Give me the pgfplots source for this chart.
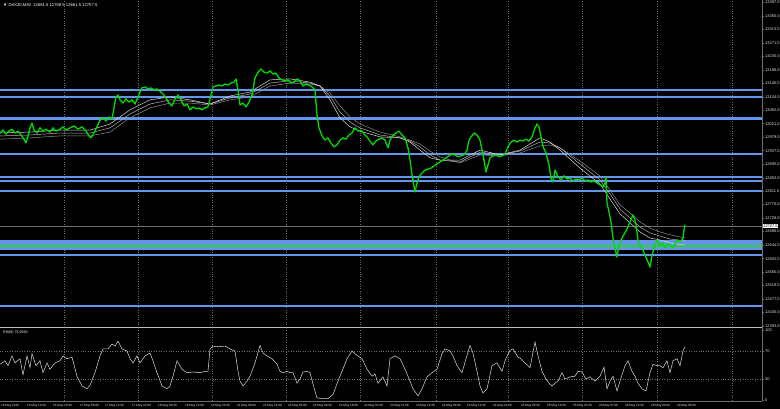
\documentclass[border=0pt]{standalone}
\usepackage{fontspec}
\setmainfont{Liberation Sans}
\usepackage{pgfplots}
\pgfplotsset{compat=1.18}
\definecolor{lvl}{RGB}{100,149,237}
\definecolor{lvlgreen}{RGB}{50,205,50}
\definecolor{cndl}{RGB}{0,220,0}
\definecolor{grd}{RGB}{110,110,110}
\definecolor{lbl}{RGB}{225,225,225}
\pgfplotsset{
  mtbase/.style={
    scale only axis, width=762bp, xmin=0, xmax=762,
    axis line style={draw=none},
    xtick={64,138,212,286,360,436,508,582,657,732}, xticklabels={},
    xtick style={draw=none}, xmajorgrids,
    grid style={dotted, grd, line width=0.45bp},
    ytick pos=right, yticklabel pos=right, ytick style={draw=grd, line width=0.5bp},
    tick align=outside, major tick length=2bp,
    yticklabel style={font=\fontsize{4}{4}\selectfont, color=lbl, inner sep=1bp},
    scaled y ticks=false,
    /pgf/number format/assume math mode=true,
    clip=true,
  }
}
\begin{document}
\begin{tikzpicture}
\fill[black] (0,0) rectangle (780bp,409bp);
\useasboundingbox (0,0) rectangle (780bp,409bp);
\begin{axis}[mtbase, at={(0bp,82bp)}, anchor=south west, height=327bp,
  ymin=12389.9, ymax=13404.9,
  ytick={12393,12435,12477,12519,12560,12602,12644,12686,12728,12770,12811,12853,12895,12937,12979,13021,13062,13104,13146,13188,13230,13271,13313,13355,13397},
  /pgf/number format/fixed, /pgf/number format/fixed zerofill,
  /pgf/number format/precision=1, /pgf/number format/1000 sep={},
]
% horizontal levels
\addplot[lvl, line width=2bp] coordinates {(0,13125.5) (762,13125.5)};
\addplot[lvl, line width=2bp] coordinates {(0,13103.8) (762,13103.8)};
\addplot[lvl, line width=3bp] coordinates {(0,13038.6) (762,13038.6)};
\addplot[lvl, line width=2bp] coordinates {(0,12926.9) (762,12926.9)};
\addplot[lvl, line width=2bp] coordinates {(0,12857.0) (762,12857.0)};
\addplot[lvl, line width=1.6bp] coordinates {(0,12843.1) (762,12843.1)};
\addplot[lvl, line width=2bp] coordinates {(0,12812.0) (762,12812.0)};
\addplot[lvl, line width=5bp] coordinates {(0,12652.2) (762,12652.2)};
\addplot[lvl, line width=2.7bp] coordinates {(0,12632.9) (762,12632.9)};
\addplot[lvlgreen, line width=2.5bp] coordinates {(0,12640.7) (762,12640.7)};
\addplot[lvl, line width=2bp] coordinates {(0,12613.4) (762,12613.4)};
\addplot[lvl, line width=2bp] coordinates {(0,12455.0) (762,12455.0)};
% bid line
\addplot[grd, line width=0.6bp] coordinates {(0,12703.4) (762,12703.4)};
% moving averages
\addplot[white!55!black, line width=0.5bp] coordinates {
(0,12973) (30,12977) (60,12983) (90,12983) (110,12995) (130,13039) (150,13070) (170,13085) (190,13085) (210,13079) (230,13095) (250,13104) (270,13138) (290,13147) (310,13144) (320,13138) (330,13116) (340,13076) (350,13042) (360,13020) (380,12995) (400,12980) (410,12970) (420,12958) (430,12936) (440,12918) (460,12899) (480,12924) (500,12921) (520,12930) (540,12952) (550,12955) (560,12946) (580,12905) (600,12859) (610,12815) (620,12769) (630,12744) (640,12716) (650,12697) (660,12685) (670,12676) (685,12666)};
\addplot[white!70!black, line width=0.5bp] coordinates {
(0,12983) (30,12986) (60,12992) (90,12992) (110,13008) (130,13051) (150,13082) (170,13095) (190,13091) (210,13082) (230,13101) (250,13113) (270,13147) (290,13154) (310,13147) (320,13138) (330,13107) (340,13057) (350,13026) (360,13008) (380,12986) (400,12977) (410,12967) (420,12949) (430,12924) (440,12908) (460,12902) (480,12933) (500,12924) (520,12936) (540,12964) (550,12961) (560,12946) (580,12896) (600,12846) (610,12803) (620,12756) (630,12728) (640,12700) (650,12682) (660,12672) (670,12663) (685,12657)};
\addplot[white!85!black, line width=0.5bp] coordinates {
(0,12992) (30,12995) (60,13001) (90,13001) (110,13020) (130,13064) (150,13095) (170,13104) (190,13095) (210,13082) (230,13107) (250,13119) (270,13157) (290,13160) (310,13150) (320,13138) (330,13095) (340,13039) (350,13011) (360,12998) (380,12980) (400,12977) (410,12964) (420,12939) (430,12915) (440,12908) (460,12908) (480,12939) (500,12924) (520,12939) (540,12977) (550,12964) (560,12939) (580,12883) (600,12834) (610,12787) (620,12741) (630,12713) (640,12685) (650,12666) (660,12660) (670,12651) (685,12644)};
% price
\addplot[cndl, line width=1.3bp, line join=round] coordinates {
(0,12992) (3,13001) (6,12989) (9,12998) (12,13004) (15,12992) (18,12998) (21,12986) (24,12973) (26,12961) (28,12983) (30,13008) (32,13023) (34,13001) (37,12992) (40,13008) (43,12998) (46,13004) (50,12995) (53,13008) (56,12998) (60,13004) (63,13011) (66,13001) (70,13008) (74,13014) (78,13004) (82,13011) (86,12998) (89,12983) (91,12977) (94,12992) (97,13011) (100,13032) (103,13039) (106,13029) (109,13042) (112,13035) (114,13070) (116,13104) (118,13110) (120,13095) (123,13085) (126,13098) (129,13088) (132,13095) (135,13082) (138,13104) (140,13119) (142,13132) (145,13135) (148,13129) (151,13132) (154,13126) (157,13129) (160,13122) (163,13113) (166,13101) (169,13085) (172,13076) (175,13098) (178,13110) (181,13095) (184,13076) (187,13082) (190,13064) (193,13073) (196,13067) (199,13070) (202,13064) (205,13070) (208,13073) (211,13110) (213,13135) (216,13138) (219,13141) (222,13138) (225,13144) (228,13141) (231,13147) (234,13150) (236,13160) (238,13126) (240,13079) (243,13085) (246,13073) (249,13088) (252,13110) (255,13163) (258,13181) (261,13191) (264,13181) (267,13178) (270,13185) (273,13175) (276,13178) (279,13163) (282,13157) (285,13154) (288,13157) (291,13147) (294,13150) (297,13160) (300,13154) (303,13138) (306,13144) (309,13141) (312,13135) (315,13126) (317,13048) (319,13008) (322,12983) (325,12970) (328,12977) (331,12961) (334,12949) (337,12955) (340,12970) (343,12977) (346,12973) (349,12986) (352,12992) (355,13008) (358,12998) (361,13001) (364,12989) (367,12980) (370,12967) (373,12955) (376,12967) (379,12973) (382,12977) (385,12970) (388,12946) (390,12970) (393,12986) (396,12992) (399,12998) (402,12986) (405,12977) (408,12946) (410,12908) (412,12862) (414,12828) (415,12809) (417,12837) (419,12856) (422,12868) (425,12877) (428,12880) (431,12883) (434,12890) (437,12896) (440,12902) (443,12908) (446,12915) (449,12921) (452,12927) (455,12924) (458,12918) (461,12921) (464,12924) (467,12939) (469,12970) (471,12980) (474,12992) (477,12986) (480,12970) (482,12939) (484,12908) (486,12871) (488,12893) (490,12915) (493,12921) (496,12924) (499,12918) (502,12921) (505,12927) (508,12949) (511,12964) (514,12970) (517,12964) (520,12970) (523,12967) (526,12973) (529,12967) (532,12980) (535,13008) (537,13020) (539,13011) (541,12980) (543,12950) (546,12930) (549,12893) (551,12852) (553,12840) (555,12877) (558,12856) (561,12846) (564,12859) (567,12849) (570,12852) (573,12843) (576,12849) (579,12846) (582,12852) (585,12843) (588,12846) (591,12840) (594,12843) (597,12837) (600,12831) (603,12825) (605,12837) (606,12855) (607,12775) (609,12747) (611,12716) (613,12666) (615,12635) (617,12607) (619,12644) (621,12660) (623,12672) (625,12682) (628,12700) (630,12716) (633,12738) (635,12722) (636,12707) (638,12660) (640,12644) (643,12629) (645,12613) (648,12592) (650,12576) (652,12613) (655,12644) (657,12660) (660,12641) (663,12651) (665,12635) (668,12648) (670,12644) (673,12635) (675,12648) (677,12660) (680,12654) (683,12666) (684,12691) (685,12707)};
\end{axis}
\begin{axis}[mtbase, at={(0bp,9bp)}, anchor=south west, height=70bp,
  ymin=0, ymax=100, ytick={0,30,70,100}, yticklabels={0,30,70,100},
  extra x ticks={1,27,53,80,105,132,158,185,211,237,263,288,313,339,364,390,416,442,467,493,521,547,573,599,625,651,677},
  extra x tick labels={16 May 2018,16 May 12:00,16 May 20:30,17 May 05:00,17 May 13:30,17 May 22:00,18 May 06:30,18 May 15:00,18 May 23:30,21 May 08:00,21 May 16:30,22 May 01:00,22 May 09:30,22 May 18:00,23 May 02:30,23 May 11:00,23 May 19:30,24 May 04:00,24 May 12:30,24 May 21:00,25 May 05:30,25 May 14:00,25 May 22:30,28 May 07:00,28 May 15:30,29 May 00:00,29 May 08:30},
  extra x tick style={grid=none, xticklabel style={anchor=north west, font=\fontsize{3.1}{3.1}\selectfont, color=lbl, inner sep=0pt, yshift=-2.5bp}},
]
\addplot[grd, dotted, line width=0.45bp] coordinates {(0,70) (762,70)};
\addplot[grd, dotted, line width=0.45bp] coordinates {(0,30) (762,30)};
\addplot[white!80!black, line width=0.55bp] coordinates {
(0,51) (5,56) (8,49) (12,63) (15,53) (20,59) (23,36) (27,63) (30,46) (32,66) (36,49) (40,56) (43,39) (47,53) (50,44) (55,53) (60,56) (63,63) (67,59) (72,61) (77,34) (82,20) (87,16) (90,21) (95,39) (100,63) (103,73) (108,73) (112,80) (115,77) (118,84) (122,73) (127,70) (130,59) (133,53) (137,63) (140,53) (145,63) (150,67) (153,56) (157,39) (162,20) (167,16) (170,20) (173,34) (177,56) (182,44) (187,39) (193,40) (200,39) (205,41) (208,41) (210,73) (213,77) (218,76) (225,77) (230,73) (235,70) (238,41) (240,27) (243,20) (247,27) (250,34) (255,53) (260,78) (263,67) (267,63) (272,59) (277,51) (280,41) (283,39) (287,41) (290,39) (293,39) (297,24) (300,30) (303,40) (307,41) (310,39) (313,23) (317,3) (322,2) (328,2) (333,8) (338,27) (342,41) (347,59) (352,70) (355,66) (358,63) (362,59) (367,44) (372,34) (375,37) (378,24) (383,33) (387,20) (390,59) (395,63) (400,59) (405,44) (410,27) (413,16) (418,6) (422,16) (427,33) (432,39) (437,44) (442,66) (445,73) (450,70) (453,63) (457,49) (462,39) (466,59) (470,78) (473,67) (477,41) (480,20) (483,10) (487,16) (492,49) (497,53) (502,41) (505,56) (510,71) (513,73) (518,61) (520,60) (525,53) (530,46) (535,83) (538,63) (542,41) (546,30) (549,24) (552,20) (555,24) (558,27) (562,39) (565,30) (570,33) (575,34) (578,41) (582,40) (586,30) (590,33) (595,27) (600,34) (604,47) (607,16) (610,27) (613,34) (617,13) (620,27) (625,49) (628,56) (632,41) (635,34) (638,24) (642,16) (646,13) (650,39) (653,51) (657,49) (660,49) (663,46) (667,56) (670,39) (673,56) (677,59) (680,49) (683,70) (685,76)};
\end{axis}
% frame lines
\draw[white!75!black, line width=1.6bp] (0bp,81.5bp) -- (762bp,81.5bp);
\draw[grd, line width=0.6bp] (762bp,8bp) -- (762bp,409bp);
\draw[grd, line width=0.6bp] (0bp,8bp) -- (762bp,8bp);
% current price box
\node[fill=white, text=black, anchor=west, inner sep=0.6bp, font=\fontsize{4}{4}\selectfont] at (762.5bp,183bp) {12707.5};
% titles
\node[anchor=west, text=white, inner sep=0pt, font=\fontsize{4.2}{4.2}\selectfont] at (3bp,404bp) {▼ DAX30,M30\ \ 12681.5 12708.5 12661.5 12707.5};
\node[anchor=west, text=white, inner sep=0pt, font=\fontsize{3.6}{3.6}\selectfont] at (3bp,76bp) {RSI(8) 75.9293};
\end{tikzpicture}
\end{document}
